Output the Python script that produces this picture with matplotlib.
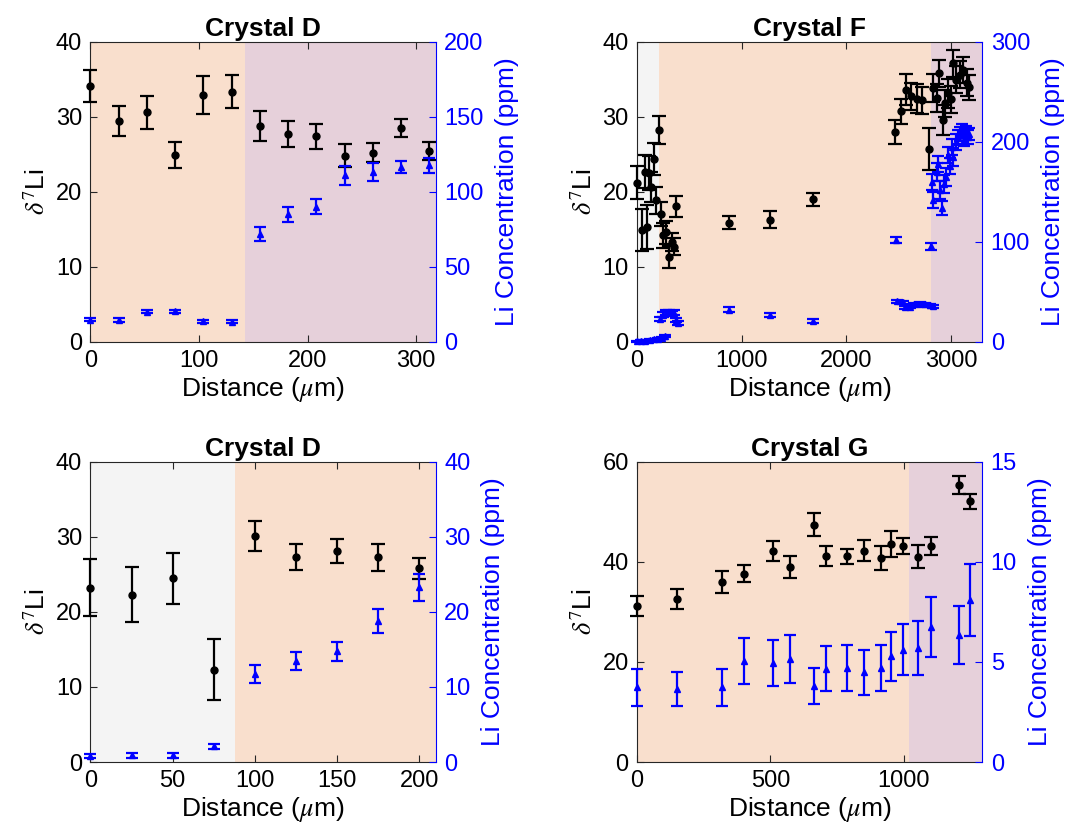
import matplotlib.pyplot as plt
import numpy as np

plt.rcParams['font.family'] = ['Liberation Sans', 'DejaVu Sans']
plt.rcParams['mathtext.fontset'] = 'stix'

# ==== COLOURS ====
PEACH = '#f9dfcd'
MAUVE = '#e6d0da'
GREY = '#f4f4f4'
BLUE = '#0000ff'
INK = '#262626'

# ==== CRYSTAL D (top left) ====
d1_x = [0, 26, 52, 78, 104, 130, 156, 182, 208, 234, 260, 286, 312]
d1_li7 = [34.1, 29.4, 30.6, 24.9, 32.9, 33.3, 28.8, 27.7, 27.4, 24.8, 25.2, 28.5, 25.4]
d1_li7_err = [2.1, 2.0, 2.2, 1.7, 2.5, 2.2, 2.0, 1.75, 1.65, 1.55, 1.3, 1.15, 1.2]
d1_ppm = [14.9, 14.6, 20.2, 20.4, 13.9, 13.4, 72, 85, 90, 111, 113, 116.5, 117.5]
d1_ppm_err = [1.2, 1.2, 1.2, 1.2, 1.0, 1.0, 4.5, 5.0, 5.0, 6.2, 6.0, 4.0, 4.8]

# ==== CRYSTAL F (top right) ====
f_x = [0, 45, 72, 92, 115, 135, 165, 186, 210, 233, 252, 278, 303, 338, 352, 376,
       880, 1275, 1685,
       2470, 2522, 2570, 2620, 2672, 2722, 2788, 2825, 2868, 2890, 2922, 2945,
       2975, 3000, 3023, 3050, 3085, 3115, 3150, 3175]
f_li7 = [21.2, 14.9, 22.7, 15.3, 22.5, 20.7, 24.4, 18.9, 28.2, 17.1, 14.2, 14.6, 11.3, 13.3, 12.7, 18.1,
         15.9, 16.3, 19.0,
         28.0, 30.7, 33.6, 32.7, 32.4, 32.2, 25.7, 33.8, 32.5, 35.8, 29.6, 31.8,
         33.1, 32.3, 37.1, 34.9, 35.6, 36.2, 34.5, 33.9]
f_li7_err = [2.2, 2.8, 2.2, 2.9, 2.3, 2.0, 2.1, 1.8, 1.9, 1.6, 1.7, 1.5, 1.5, 1.2, 1.1, 1.4,
             0.85, 1.1, 0.9,
             1.6, 1.7, 2.1, 1.8, 1.9, 1.8, 2.8, 1.9, 1.9, 1.8, 2.0, 1.8,
             1.9, 1.8, 1.8, 1.8, 1.8, 1.7, 1.8, 1.7]
f_xc = [0, 40, 80, 120, 160, 200, 240, 270,
        215, 250, 280, 305, 330, 350, 370, 395,
        880, 1275, 1680,
        2480, 2540, 2560, 2610, 2650, 2700, 2750, 2800, 2830,
        2475, 2808,
        2817, 2833, 2865, 2881, 2900, 2913, 2930, 2950, 2976, 2990,
        3008, 3024, 3045, 3072, 3090, 3104, 3125, 3140, 3160, 3175]
f_ppm = [0.5, 0.8, 1.3, 1.8, 2.5, 3.2, 4.2, 5.5,
         22.5, 27, 29, 29.5, 28.5, 29, 22, 18.5,
         32, 27.3, 21.3,
         40.5, 39.5, 34.5, 35, 37.5, 38, 37.5, 36.5, 35.5,
         102, 95.5,
         160, 142, 170, 178, 152, 134, 158, 165, 187, 176,
         195, 185, 200, 205, 208, 212, 203, 210, 205, 208]
f_ppm_err = [0.8, 0.8, 0.8, 0.9, 0.9, 1.0, 1.0, 1.0,
             2.0, 2.5, 2.5, 2.5, 2.0, 2.5, 2.0, 2.0,
             2.5, 2.0, 2.0,
             1.5, 1.5, 1.5, 1.5, 1.5, 1.5, 1.5, 1.5, 1.5,
             3.0, 3.5,
             8, 8, 9, 8, 9, 7, 9, 9, 8, 8,
             8, 9, 8, 7, 7, 6, 7, 6, 7, 6]

# ==== CRYSTAL D (bottom left) ====
d2_x = [0, 25, 50, 75, 100, 125, 150, 175, 200]
d2_li7 = [23.2, 22.3, 24.5, 12.3, 30.1, 27.3, 28.1, 27.3, 25.8]
d2_li7_err = [3.8, 3.7, 3.4, 4.1, 2.0, 1.7, 1.6, 1.8, 1.4]
d2_ppm = [0.8, 0.9, 0.9, 2.1, 11.7, 13.4, 14.75, 18.8, 23.3]
d2_ppm_err = [0.3, 0.3, 0.3, 0.3, 1.2, 1.2, 1.3, 1.6, 1.8]

# ==== CRYSTAL G (bottom right) ====
g_x = [0, 151, 319, 400, 509, 572, 665, 710, 786, 850, 914, 954, 997, 1055, 1104, 1208, 1247]
g_li7 = [31.1, 32.5, 36.0, 37.6, 42.1, 38.9, 47.4, 41.2, 41.1, 42.2, 40.7, 43.5, 43.1, 41.0, 43.1, 55.3, 52.1]
g_li7_err = [2.0, 2.0, 2.2, 1.7, 2.0, 2.2, 2.25, 2.0, 1.45, 2.1, 2.4, 2.6, 1.6, 2.3, 1.8, 1.75, 1.5]
g_ppm = [3.74, 3.65, 3.74, 5.03, 4.95, 5.15, 3.8, 4.65, 4.7, 4.49, 4.68, 5.28, 5.6, 5.7, 6.73, 6.36, 8.09]
g_ppm_err = [0.93, 0.85, 0.93, 1.15, 1.13, 1.19, 0.9, 1.12, 1.13, 1.12, 1.15, 1.22, 1.27, 1.33, 1.5, 1.45, 1.8]


def dibujar_panel(fig, pos, titulo, x, li7, li7_err, xc, ppm, ppm_err,
                  xlim, xticks, ylim1, yticks1, ylim2, yticks2, zonas):
    ax = fig.add_axes(pos)
    # background zones
    for x0, x1, color in zonas:
        ax.axvspan(x0, x1, color=color, lw=0, zorder=0)

    ax.errorbar(x, li7, yerr=li7_err, fmt='o', color='black', ms=5,
                elinewidth=1.6, capsize=5, capthick=1.6, clip_on=False, zorder=3)
    ax.set_xlim(*xlim)
    ax.set_ylim(*ylim1)
    ax.set_xticks(xticks)
    ax.set_yticks(yticks1)
    ax.set_title(titulo, fontsize=19, fontweight='bold', pad=4)
    ax.set_xlabel(r'Distance ($\mu$m)', fontsize=19, labelpad=2)
    ax.set_ylabel(r'$\delta^{\mathit{7}}$Li', fontsize=19, labelpad=4)
    ax.tick_params(axis='both', direction='in', labelsize=17, length=5,
                   width=0.8, color=INK, top=True, pad=6)
    for lado in ['left', 'bottom', 'top']:
        ax.spines[lado].set_color(INK)
    ax.spines['right'].set_visible(False)

    # right axis: Li concentration
    ax2 = ax.twinx()
    ax2.errorbar(xc, ppm, yerr=ppm_err, fmt='^', color=BLUE, ms=4.5,
                 elinewidth=1.6, capsize=4.5, capthick=1.6, clip_on=False, zorder=3)
    ax2.set_ylim(*ylim2)
    ax2.set_yticks(yticks2)
    ax2.set_ylabel('Li Concentration (ppm)', fontsize=19, color=BLUE, labelpad=8)
    ax2.tick_params(axis='y', direction='in', labelsize=17, length=5,
                    width=0.8, colors=BLUE, pad=6)
    ax2.spines['right'].set_color(BLUE)
    for lado in ['left', 'bottom', 'top']:
        ax2.spines[lado].set_visible(False)
    return ax, ax2


def main():
    fig = plt.figure(figsize=(10.71, 8.32), dpi=100)

    izq, der = 0.0845, 0.5948
    ancho = 0.3224
    arriba, abajo = 0.589, 0.0841
    alto = 0.361

    dibujar_panel(fig, [izq, arriba, ancho, alto], 'Crystal D',
                  d1_x, d1_li7, d1_li7_err, d1_x, d1_ppm, d1_ppm_err,
                  (0, 318), [0, 100, 200, 300], (0, 40), [0, 10, 20, 30, 40],
                  (0, 200), [0, 50, 100, 150, 200],
                  [(0, 142.6, PEACH), (142.6, 318, MAUVE)])

    dibujar_panel(fig, [der, arriba, ancho, alto], 'Crystal F',
                  f_x, f_li7, f_li7_err, f_xc, f_ppm, f_ppm_err,
                  (0, 3300), [0, 1000, 2000, 3000], (0, 40), [0, 10, 20, 30, 40],
                  (0, 300), [0, 100, 200, 300],
                  [(0, 211, GREY), (211, 2808, PEACH), (2808, 3300, MAUVE)])

    dibujar_panel(fig, [izq, abajo, ancho, alto], 'Crystal D',
                  d2_x, d2_li7, d2_li7_err, d2_x, d2_ppm, d2_ppm_err,
                  (0, 210), [0, 50, 100, 150, 200], (0, 40), [0, 10, 20, 30, 40],
                  (0, 40), [0, 10, 20, 30, 40],
                  [(0, 88, GREY), (88, 210, PEACH)])

    dibujar_panel(fig, [der, abajo, ancho, alto], 'Crystal G',
                  g_x, g_li7, g_li7_err, g_x, g_ppm, g_ppm_err,
                  (0, 1295), [0, 500, 1000], (0, 60), [0, 20, 40, 60],
                  (0, 15), [0, 5, 10, 15],
                  [(0, 1020, PEACH), (1020, 1295, MAUVE)])

    fig.savefig('out.png', dpi=100)
    plt.close(fig)


if __name__ == "__main__":
    main()
